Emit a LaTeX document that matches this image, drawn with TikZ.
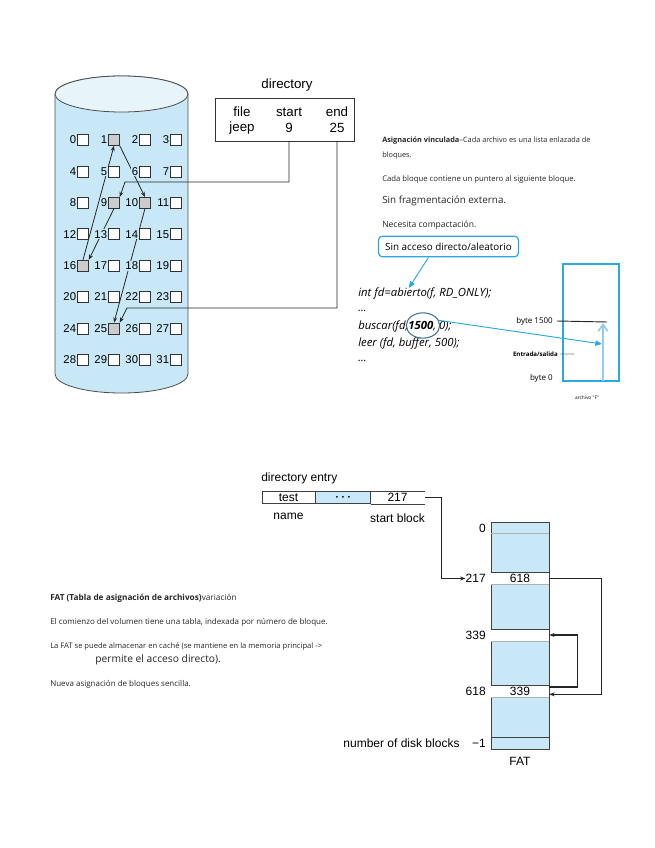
\documentclass[tikz,border=0pt]{standalone}
\usepackage{fontspec}
\setmainfont{Liberation Sans}
\newfontfamily\osans{Open Sans}
\usetikzlibrary{arrows.meta, positioning, calc, shapes.geometric}
\definecolor{cylblue}{HTML}{C9E8F7}
\definecolor{accent}{HTML}{29A9E1}
\definecolor{ringblue}{HTML}{41719C}
\definecolor{pale}{HTML}{93CDEB}
\tikzset{
  blk/.style={rectangle,draw=black!80,fill=white,minimum size=8.2pt,inner sep=0pt},
  num/.style={anchor=east,fill=cylblue,inner sep=0.7pt,font=\fontsize{8.5}{9}\selectfont},
  link/.style={-{Stealth[length=4pt,width=3pt]},draw=black!85,line width=0.6pt},
  hdr/.style={inner sep=0pt,font=\fontsize{10}{11}\selectfont},
  lbl/.style={inner sep=0pt,font=\fontsize{9}{10}\selectfont},
  note/.style={anchor=west,inner sep=0pt,text=black!85,font=\osans\fontsize{5.4}{6}\selectfont},
  code/.style={anchor=west,inner sep=0pt,font=\osans\itshape\fontsize{8.5}{9}\selectfont},
  ecell/.style={rectangle,draw=black!75,fill=white,inner sep=0pt,minimum width=40pt,
    minimum height=9pt,font=\fontsize{9}{10}\selectfont},
  fatcell/.style={rectangle,fill=white,inner sep=0pt,minimum width=43.5pt,
    minimum height=8.6pt,font=\fontsize{9}{10}\selectfont},
  bluearr/.style={-{Triangle[length=5pt,width=4pt]},draw=accent,line width=0.7pt}
}
\begin{document}
\begin{tikzpicture}[x=0.75pt,y=-0.75pt]
\useasboundingbox (0,0) rectangle (655,848);

% Disk
\draw[draw=black!70,fill=cylblue,line width=0.6pt] (55,94) -- (55,374)
  arc[start angle=180,end angle=0,x radius=66.5,y radius=19] -- (188,94)
  arc[start angle=0,end angle=-180,x radius=66.5,y radius=18] -- cycle;
\draw[draw=black!70,fill=cylblue!45!white,line width=0.6pt] (121.5,94) ellipse[x radius=66.5,y radius=18];

\foreach \n in {0,...,31}{
  \pgfmathtruncatemacro\row{div(\n,4)}
  \pgfmathtruncatemacro\col{mod(\n,4)}
  \node[blk] (b\n) at ({83+31*\col},{140+31.4*\row}) {};
}
\foreach \u in {1,9,10,16,25}
  \node[blk,fill=gray!40] (b\u) at (b\u) {};

% Directory
\node[hdr] (dirtitle) at (287,85) {directory};
\node[rectangle,draw=black!80,minimum width=104pt,minimum height=32pt] (dir) at (285,119.5) {};
\node[hdr] (dfile) at (242,112) {file};
\node[hdr] (djeep) at (242,128) {jeep};
\node[hdr] (dstart) at (289,112) {start};
\node[hdr] (dst) at (289,128) {9};
\node[hdr] (dend) at (337,112) {end};
\node[hdr] (den) at (337,128) {25};

% Chain
\coordinate (k9) at (125,182);
\coordinate (k25) at (127,308);
\draw[link] (dst |- dir.south) |- (k9) -- (b9.north east);
\draw[link] (b9.south) -- (b16.north east);
\draw[link] (b16.north) -- (b1.south);
\draw[link] (b1.south east) -- (b10.north);
\draw[link] (b10.south) -- (b25.north);
\draw[link] (den |- dir.south) |- (k25) -- (b25.north east);

\foreach \n in {0,...,31}
  \node[num] (n\n) at (b\n.west) {\n};

% Notes, linked allocation
\node[note,font=\osans\fontsize{5.5}{6}\selectfont] (asig) at (382,141) {\textbf{Asignación vinculada}–Cada archivo es una lista enlazada de};
\node[note,font=\osans\fontsize{5.5}{6}\selectfont] (bloq) at (382,156) {bloques.};
\node[note,font=\osans\fontsize{5.8}{6}\selectfont] (ptr) at (382,179) {Cada bloque contiene un puntero al siguiente bloque.};
\node[note,font=\osans\fontsize{7.4}{8}\selectfont] (nofrag) at (382,201) {Sin fragmentación externa.};
\node[note,font=\osans\fontsize{6.4}{7}\selectfont] (comp) at (382,225) {Necesita compactación.};
\node[rectangle,rounded corners=3pt,draw=accent,line width=0.9pt,minimum width=105pt,
  minimum height=15.5pt,inner sep=1pt,font=\osans\fontsize{7.4}{8}\selectfont] (noacc) at (448.5,246.5)
  {Sin acceso directo/aleatorio};

% Code
\node[code] (open) at (358,294) {int fd=abierto(f, RD\_ONLY);};
\node[code] (dots1) at (358,311) {...};
\node[code] (seek) at (358,327) {buscar(fd,\textbf{1500}, 0);};
\node[code] (read) at (358,344) {leer (fd, buffer, 500);};
\node[code] (dots2) at (358,361) {...};
\draw[bluearr] ([xshift=-15pt]noacc.south) -- ([xshift=-12pt]open.north);
\node[ellipse,draw=ringblue,line width=0.8pt,minimum width=25pt,minimum height=19pt,inner sep=0pt] (ring) at (423,325.5) {};

% File
\node[rectangle,draw=accent,line width=1pt,minimum width=42pt,minimum height=87.5pt] (file) at (591,322.5) {};
\node[anchor=east,inner sep=0pt,font=\osans\fontsize{6}{7}\selectfont] (b1500) at (553,321) {byte 1500};
\node[anchor=east,inner sep=0pt,font=\osans\fontsize{6}{7}\selectfont] (bzero) at (553,378) {byte 0};
\node[anchor=east,inner sep=0pt,font=\osans\bfseries\fontsize{4.6}{5}\selectfont] (io) at (558,354) {Entrada/salida};
\node[anchor=west,inner sep=0pt,text=black!70,font=\osans\fontsize{2.2}{3}\selectfont] (iox) at (560,355) {comprimir};
\node[inner sep=0pt,font=\osans\fontsize{3.6}{4}\selectfont] (fname) at (587,398) {archivo "F"};
\coordinate (mark) at (607,322);
\coordinate (hit) at (602,344);
\draw[black!85,line width=0.7pt] ([xshift=3pt]b1500.east) -- (mark);
\draw[-{Straight Barb[length=5pt,width=7pt]},draw=pale,line width=1.3pt] (603,381) -- (603,323);
\draw[bluearr] (ring.18) -- (hit);

% Directory entry
\node[lbl,anchor=west] (dentry) at (261,478) {directory entry};
\node[ecell] (etest) at (288.5,497.5) {test};
\node[ecell,fill=cylblue,minimum width=41pt,right=0pt of etest,font=\fontsize{5}{6}\selectfont] (edots) {\textbullet\ \ \textbullet\ \ \textbullet};
\node[ecell,draw=none,fill=none,right=0pt of edots] (e217) {217};
\draw[black!75] (e217.north west) -- (e217.north east);
\draw[black!75] (e217.south west) -- (e217.south east);
\node[lbl,below=7pt of etest] (ename) {name};
\node[lbl,below=7pt of e217] (estart) {start block};

% FAT
\node[rectangle,draw=black!75,fill=cylblue,minimum width=43.5pt,minimum height=170.25pt] (fat) at (520,635.5) {};
\draw[gray!60] ([yshift=-9pt]fat.north west) -- ([yshift=-9pt]fat.north east);
\node[fatcell] (c217) at (520,578.5) {618};
\node[fatcell] (c339) at (520,635) {};
\node[fatcell] (c618) at (520,691) {339};
\foreach \c in {c217,c339,c618}{
  \draw[black!75] (\c.north west) -- (\c.north east);
  \draw[gray!60] (\c.south west) -- (\c.south east);
}
\draw[black!75] ([yshift=9pt]fat.south west) -- ([yshift=9pt]fat.south east);
\node[lbl,anchor=east] (l0) at (486,528) {0};
\node[lbl,anchor=east] (l217) at (486,578.5) {217};
\node[lbl,anchor=east] (l339) at (486,635) {339};
\node[lbl,anchor=east] (l618) at (486,691) {618};
\node[lbl,anchor=east] (lend) at (486,743) {−1};
\node[lbl,left=9pt of lend] (ndisk) {number of disk blocks};
\node[lbl,below=6pt of fat] (fatname) {FAT};

\draw[link] (e217.east) -- ++(17,0) |- (l217.west);
\draw[link] (c217.east) -- ++(52,0) |- ([yshift=-2.5pt]c618.east);
\draw[link,line width=0.9pt] ([yshift=3pt]c618.east) -- ++(28,0) |- (c339.east);

% Notes, FAT
\node[note,font=\osans\fontsize{6.2}{7}\selectfont] (fatt) at (50,598) {\textbf{FAT (Tabla de asignación de archivos)}variación};
\node[note,font=\osans\fontsize{6}{7}\selectfont] (vol) at (50,622) {El comienzo del volumen tiene una tabla, indexada por número de bloque.};
\node[note,font=\osans\fontsize{5.7}{6}\selectfont] (cache) at (50,646) {La FAT se puede almacenar en caché (se mantiene en la memoria principal ->};
\node[note,font=\osans\fontsize{7.7}{8}\selectfont] (direct) at (95,660) {permite el acceso directo).};
\node[note,font=\osans\fontsize{6}{7}\selectfont] (newblk) at (50,684) {Nueva asignación de bloques sencilla.};

\end{tikzpicture}
\end{document}
